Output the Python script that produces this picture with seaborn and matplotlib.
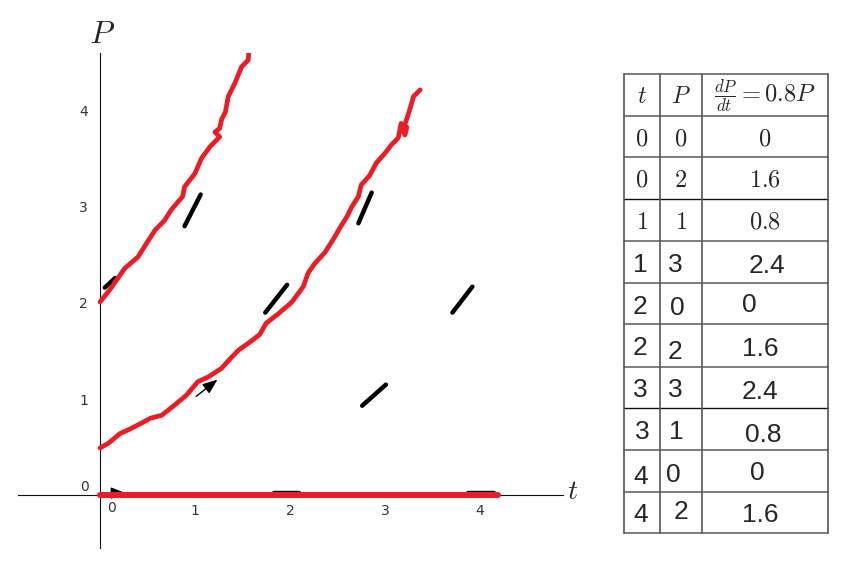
"""Sketched slope field for dP/dt = 0.8P with hand-drawn solution curves and a value table."""

import matplotlib
matplotlib.use("Agg")
import matplotlib.pyplot as plt
import seaborn as sns

# hand-drawn solution curves as (t, P)
upper_t = [0.0, 0.105, 0.26, 0.40, 0.47, 0.58, 0.68, 0.75, 0.87, 0.89, 1.0, 1.07, 1.16, 1.26,
           1.21, 1.26, 1.28, 1.32, 1.35, 1.42, 1.49, 1.56, 1.57]
upper_p = [2.01, 2.14, 2.36, 2.48, 2.59, 2.76, 2.86, 2.97, 3.11, 3.21, 3.35, 3.51, 3.63, 3.73,
           3.78, 3.82, 3.91, 3.99, 4.15, 4.29, 4.46, 4.53, 4.65]
lower_t = [0.0, 0.09, 0.21, 0.30, 0.44, 0.53, 0.65, 0.79, 0.91, 1.03, 1.14, 1.28, 1.39, 1.46,
           1.56, 1.68, 1.75, 1.88, 2.02, 2.14, 2.19, 2.26, 2.37, 2.46, 2.53, 2.60, 2.65, 2.72,
           2.75, 2.84, 2.91, 3.00, 3.07, 3.14, 3.17, 3.23, 3.21, 3.19, 3.26, 3.30, 3.37]
lower_p = [0.49, 0.54, 0.64, 0.68, 0.75, 0.80, 0.83, 0.94, 1.04, 1.18, 1.23, 1.32, 1.44, 1.51,
           1.58, 1.67, 1.79, 1.89, 2.01, 2.17, 2.31, 2.41, 2.53, 2.67, 2.79, 2.90, 3.00, 3.11,
           3.23, 3.33, 3.46, 3.56, 3.65, 3.72, 3.87, 3.83, 3.75, 3.80, 4.01, 4.15, 4.22]
zero_t = [0.0, 4.19]
zero_p = [0.0, 0.0]

# slope marks (start -> end)
mark_t0 = [0.05, 0.89, 1.74, 2.72, 3.71, 2.76, 1.83, 3.87]
mark_p0 = [2.16, 2.80, 1.90, 2.83, 1.90, 0.93, 0.02, 0.02]
mark_t1 = [0.16, 1.06, 1.97, 2.86, 3.92, 3.01, 2.10, 4.15]
mark_p1 = [2.26, 3.13, 2.19, 3.15, 2.17, 1.15, 0.02, 0.02]
arrow_t = [(0.99, 1.26), (0.12, 0.30)]
arrow_p = [(1.01, 1.22), (0.02, 0.02)]

# table contents
table_t = ["0", "0", "1", "1", "2", "2", "3", "3", "4", "4"]
table_p = ["0", "2", "1", "3", "0", "2", "3", "1", "0", "2"]
table_d = ["0", "1.6", "0.8", "2.4", "0", "1.6", "2.4", "0.8", "0", "1.6"]

RED = "#ED1C24"

sns.set_style("white")
plt.rcParams["font.family"] = ["DejaVu Sans"]
plt.rcParams["mathtext.fontset"] = "cm"

fig = plt.figure(figsize=(8.62, 5.64), dpi=100)
ax = fig.add_axes([18 / 862, 16 / 564, 545 / 862, 495 / 564])
ax.set_xlim(-0.863, 4.874)
ax.set_ylim(-0.552, 4.604)
for side in ["top", "right"]:
    ax.spines[side].set_visible(False)
ax.spines["left"].set_position(("data", 0))
ax.spines["bottom"].set_position(("data", 0))
for side in ["left", "bottom"]:
    ax.spines[side].set_color("#111111")
    ax.spines[side].set_linewidth(0.8)
ax.set_xticks([1, 2, 3, 4])
ax.set_yticks([1, 2, 3, 4])
ax.tick_params(axis="y", length=3, width=0.8, color="#333333", pad=5.5, labelsize=10, labelcolor="#333333")
ax.tick_params(axis="x", length=2, width=0.6, color="#bbbbbb", pad=4.5, labelsize=10, labelcolor="#333333")
ax.text(0.12, -0.14, "0", ha="center", va="center", fontsize=10, color="#333333")
ax.text(-0.16, 0.08, "0", ha="center", va="center", fontsize=10, color="#333333")

for t0, p0, t1, p1 in zip(mark_t0, mark_p0, mark_t1, mark_p1):
    ax.plot([t0, t1], [p0, p1], color="black", lw=3.2, solid_capstyle="round", zorder=2)
for (ta, tb), (pa, pb) in zip(arrow_t, arrow_p):
    ax.annotate("", xy=(tb, pb), xytext=(ta, pa),
                arrowprops=dict(arrowstyle="-|>,head_length=0.9,head_width=0.35", color="black", lw=1.0), zorder=2)

curve_style = dict(sort=False, estimator=None, color=RED, ax=ax, zorder=3,
                   solid_joinstyle="round", solid_capstyle="round")
sns.lineplot(x=upper_t, y=upper_p, lw=3.4, **curve_style)
sns.lineplot(x=lower_t, y=lower_p, lw=3.4, **curve_style)
sns.lineplot(x=zero_t, y=zero_p, lw=4.3, **curve_style)

ax.text(0.02, 4.8, "$P$", ha="center", va="center", fontsize=23, clip_on=False)
ax.text(4.98, 0.04, "$t$", ha="center", va="center", fontsize=20, clip_on=False)

# value table, laid out in pixel coordinates
tx = fig.add_axes([624 / 862, 30 / 564, 205 / 862, 461 / 564])
tx.set_xlim(624, 829)
tx.set_ylim(534, 73)
tx.axis("off")
row_edges = [74, 116, 157, 199, 241, 283, 324, 367, 408, 450, 492, 533]
col_edges = [624, 660, 702, 828]
for y in row_edges:
    dark = y in (199, 408)
    tx.plot([624, 828], [y, y], color="#111111" if dark else "#666666", lw=1.0 if dark else 1.2, clip_on=False)
for x in col_edges:
    tx.plot([x, x], [74, 533], color="#555555", lw=1.2, clip_on=False)

tx.text(642, 96, "$t$", ha="center", va="center", fontsize=17)
tx.text(681, 96, "$P$", ha="center", va="center", fontsize=17)
tx.text(765, 96, r"$\frac{dP}{dt} = 0.8P$", ha="center", va="center", fontsize=17.5)

serif_y = [139, 180, 222]
sans_x = [(640, 675, 767), (640, 677, 749), (640, 675, 760), (640, 675, 760), (642, 676, 763), (641, 673, 757), (641, 681, 760)]
sans_y = [(265, 265, 266), (307, 308, 305), (348, 352, 349), (390, 390, 392), (432, 432, 435), (477, 475, 473), (515, 512, 515)]
for i, (a, b, c) in enumerate(zip(table_t, table_p, table_d)):
    if i < 3:
        y = serif_y[i]
        for x, s in zip((642, 681, 765), (a, b, c)):
            tx.text(x, y, f"${s}$", ha="center", va="center", fontsize=17.5)
    else:
        xs, ys = sans_x[i - 3], sans_y[i - 3]
        for x, y, s in zip(xs, ys, (a, b, c)):
            tx.text(x, y, s, ha="center", va="center", fontsize=19, family="Liberation Sans")

fig.savefig("out.png", dpi=100)
